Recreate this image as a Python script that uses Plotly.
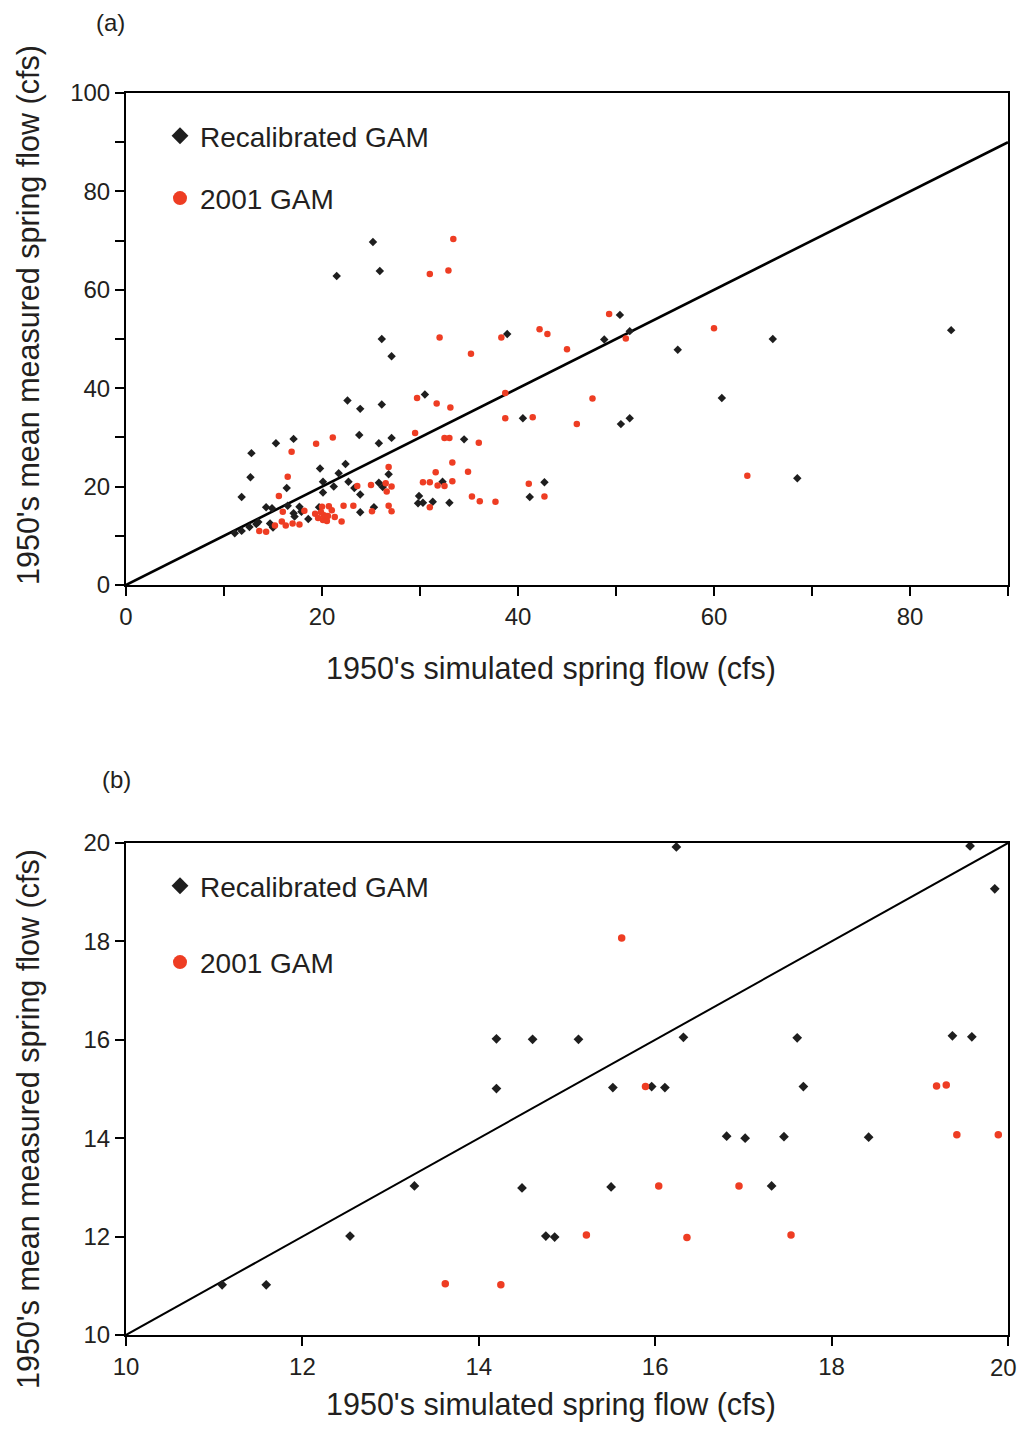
import plotly.graph_objects as go

# ---------------- data: panel (a) ----------------
recal_a_x = [25.2, 21.5, 25.9, 26.1, 27.1,
             22.6, 23.9, 26.1, 15.3, 17.1, 12.8, 23.8, 25.8, 27.1,
             12.7, 11.8, 19.8, 22.4, 21.7, 20.1, 20.1, 21.2, 22.7, 23.3, 23.9, 25.8, 26.2, 26.8, 16.4,
             14.3, 14.9, 16.5, 17.7, 17.9, 17.1, 17.2, 18.6, 19.7, 14.7, 23.9, 25.3,
             11.1, 11.8, 12.6, 13.3, 13.5, 15.0,
             29.9, 29.8, 30.3, 31.3, 33.0, 32.3, 30.5, 34.5, 38.9, 40.5, 41.2, 42.7,
             48.8, 50.4, 51.4, 50.5, 51.4,
             56.3, 60.8, 66.0, 68.5, 84.2]
recal_a_y = [69.7, 62.8, 63.8, 50.0, 46.5,
             37.5, 35.8, 36.7, 28.8, 29.7, 26.8, 30.5, 28.8, 29.9,
             21.9, 17.9, 23.7, 24.6, 22.7, 21.0, 18.8, 20.0, 21.0, 19.7, 18.4, 20.8, 19.9, 22.5, 19.7,
             15.8, 15.6, 16.1, 15.9, 14.9, 14.6, 13.9, 13.4, 15.8, 12.5, 14.8, 15.8,
             10.5, 11.0, 11.8, 12.4, 12.8, 11.7,
             18.1, 16.6, 16.7, 16.9, 16.7, 21.0, 38.7, 29.6, 51.0, 33.9, 17.9, 20.9,
             49.9, 54.9, 51.6, 32.7, 33.9,
             47.8, 38.0, 50.0, 21.7, 51.8]

gam2001_a_x = [33.4, 31.0, 32.9, 32.0, 35.2, 38.3, 42.2, 43.0, 45.0, 49.3, 51.0, 60.0,
               29.7, 31.7, 33.1, 38.7, 47.6, 29.5, 32.5, 33.0, 38.7, 41.5, 46.0, 36.0, 33.3,
               31.6, 34.9, 30.3, 31.0, 31.8, 32.5, 33.3, 41.1, 35.3, 36.1, 37.7, 42.7, 31.0, 63.4,
               19.4, 21.1, 16.9, 16.5, 15.6, 26.8, 23.6, 25.0, 26.5, 27.1, 26.6, 22.2, 23.2,
               25.1, 26.8, 27.1, 22.0,
               16.0, 18.2, 13.6, 14.3, 15.2, 15.9, 16.3, 17.0, 17.7,
               19.3, 19.6, 20.1, 20.5, 20.2, 20.6, 20.0, 20.7, 21.0, 21.3, 19.9]
gam2001_a_y = [70.3, 63.2, 63.9, 50.3, 47.0, 50.3, 52.0, 51.0, 47.9, 55.1, 50.1, 52.2,
               38.0, 36.9, 36.1, 39.0, 37.9, 30.9, 29.9, 29.9, 33.9, 34.1, 32.7, 28.9, 24.9,
               22.9, 23.0, 20.9, 20.9, 20.2, 20.1, 21.1, 20.6, 18.0, 17.0, 16.9, 18.0, 15.8, 22.2,
               28.7, 30.0, 27.1, 22.0, 18.1, 24.0, 20.1, 20.3, 20.7, 20.0, 19.0, 16.1, 16.1,
               15.0, 16.1, 15.0, 12.9,
               14.9, 15.1, 11.0, 10.8, 12.1, 12.9, 12.1, 12.5, 12.3,
               14.5, 13.6, 13.2, 13.0, 14.2, 14.0, 15.9, 16.0, 15.2, 13.8, 14.8]

# ---------------- data: panel (b) ----------------
recal_b_x = [11.09, 11.59, 12.54, 13.27, 14.20, 14.20, 14.49, 14.61, 14.76, 14.86, 15.13,
             15.52, 15.50, 15.96, 16.11, 16.24, 16.32, 16.81, 17.02, 17.32, 17.46, 17.61,
             17.68, 18.42, 19.37, 19.57, 19.59, 19.85]
recal_b_y = [11.02, 11.02, 12.01, 13.03, 16.02, 15.01, 12.99, 16.01, 12.01, 11.99, 16.01,
             15.03, 13.01, 15.05, 15.03, 19.92, 16.05, 14.04, 14.00, 13.03, 14.03, 16.04,
             15.05, 14.02, 16.08, 19.94, 16.06, 19.07]

gam2001_b_x = [13.62, 14.25, 15.22, 15.62, 15.89, 16.04, 16.36, 16.95, 17.54,
               19.19, 19.30, 19.42, 19.89]
gam2001_b_y = [11.04, 11.02, 12.03, 18.07, 15.05, 13.03, 11.98, 13.03, 12.03,
               15.06, 15.08, 14.07, 14.07]

# tick labels
ticks_a_x = [0, 20, 40, 60, 80]
ticks_a_y = [0, 20, 40, 60, 80, 100]
ticks_b = [10, 12, 14, 16, 18, 20]

# 1:1 reference lines
line_a = [0, 90]
line_b = [10, 20]

series_names = ["Recalibrated GAM", "2001 GAM"]
x_title = "1950's simulated spring flow (cfs)"
y_title = "1950's mean measured spring flow (cfs)"

BLACK = "#1e1e1e"
RED = "#ee3d23"
TXT = "#231f20"
FONT = "Liberation Sans, Arial, sans-serif"
PAGE_MARGIN = 8            # default body margin of the html page
W, H = 1026 - 2 * PAGE_MARGIN, 1430 - 2 * PAGE_MARGIN

fig = go.Figure()

# panel (a)
fig.add_trace(go.Scatter(x=line_a, y=line_a, mode="lines", line=dict(color="black", width=2.6),
                         showlegend=False, hoverinfo="skip", xaxis="x", yaxis="y"))
fig.add_trace(go.Scatter(x=recal_a_x, y=recal_a_y, mode="markers", showlegend=False,
                         marker=dict(symbol="diamond", size=6.5, color=BLACK), xaxis="x", yaxis="y"))
fig.add_trace(go.Scatter(x=gam2001_a_x, y=gam2001_a_y, mode="markers", showlegend=False,
                         marker=dict(symbol="circle", size=6.5, color=RED), xaxis="x", yaxis="y"))
# panel (b)
fig.add_trace(go.Scatter(x=line_b, y=line_b, mode="lines", line=dict(color="black", width=2),
                         showlegend=False, hoverinfo="skip", xaxis="x2", yaxis="y2"))
fig.add_trace(go.Scatter(x=recal_b_x, y=recal_b_y, mode="markers", showlegend=False,
                         marker=dict(symbol="diamond", size=7.5, color=BLACK), xaxis="x2", yaxis="y2"))
fig.add_trace(go.Scatter(x=gam2001_b_x, y=gam2001_b_y, mode="markers", showlegend=False,
                         marker=dict(symbol="circle", size=7.5, color=RED), xaxis="x2", yaxis="y2"))

# legend entries (larger symbols, as in the original)
for leg, xa, ya in [("legend", "x", "y"), ("legend2", "x2", "y2")]:
    fig.add_trace(go.Scatter(x=[None], y=[None], mode="markers", name=series_names[0],
                             marker=dict(symbol="diamond", size=13, color=BLACK),
                             legend=leg, legendgroup=leg + "a", xaxis=xa, yaxis=ya))
    fig.add_trace(go.Scatter(x=[None], y=[None], mode="markers", name=series_names[1],
                             marker=dict(symbol="circle", size=14, color=RED),
                             legend=leg, legendgroup=leg + "b", xaxis=xa, yaxis=ya))

def px_x(p):
    return (p - PAGE_MARGIN) / W

def px_y(p):
    return 1 - (p - PAGE_MARGIN) / H

axis_common = dict(showline=True, linewidth=2, linecolor="black", mirror=True,
                   ticks="outside", ticklen=9, tickwidth=2, tickcolor="black",
                   showgrid=False, zeroline=False, automargin=False,
                   tickfont=dict(family=FONT, size=24, color=TXT))

# last x label of panel (b) sits at the page edge: drawn separately, right-aligned
ticktext_b_x = [str(v) for v in ticks_b[:-1]] + [""]

fig.update_layout(
    width=W, height=H,
    margin=dict(l=0, r=0, t=0, b=0, autoexpand=False),
    paper_bgcolor="white", plot_bgcolor="white",
    font=dict(family=FONT, color=TXT),
    xaxis=dict(domain=[px_x(126), px_x(1008)], range=[0, 90], anchor="y",
               tickvals=ticks_a_x,
               minor=dict(ticks="outside", ticklen=9, tickwidth=2, tickcolor="black", dtick=10, showgrid=False),
               **axis_common),
    yaxis=dict(domain=[px_y(585), px_y(93)], range=[0, 100], anchor="x",
               tickvals=ticks_a_y,
               minor=dict(ticks="outside", ticklen=9, tickwidth=2, tickcolor="black", dtick=10, showgrid=False),
               **axis_common),
    xaxis2=dict(domain=[px_x(126), px_x(1008)], range=[10, 20], anchor="y2",
                tickvals=ticks_b, ticktext=ticktext_b_x, **axis_common),
    yaxis2=dict(domain=[px_y(1335), px_y(843)], range=[10, 20], anchor="x2",
                tickvals=ticks_b, **axis_common),
    legend=dict(x=px_x(160), y=px_y(111), xanchor="left", yanchor="top",
                font=dict(family=FONT, size=28, color=TXT),
                traceorder="grouped", tracegroupgap=23, bgcolor="rgba(0,0,0,0)",
                itemsizing="trace"),
    legend2=dict(x=px_x(160), y=px_y(861), xanchor="left", yanchor="top",
                 font=dict(family=FONT, size=28, color=TXT),
                 traceorder="grouped", tracegroupgap=37, bgcolor="rgba(0,0,0,0)",
                 itemsizing="trace"),
    showlegend=True,
)

fig.add_annotation(text=str(ticks_b[-1]), x=1.0, y=px_y(1367), xref="paper", yref="paper",
                   showarrow=False, font=dict(family=FONT, size=24, color=TXT),
                   xanchor="right", yanchor="middle", borderpad=0)

annots = [
    dict(text="(a)", x=px_x(110), y=px_y(22)),
    dict(text="(b)", x=px_x(116), y=px_y(779)),
]
for a in annots:
    fig.add_annotation(text=a["text"], x=a["x"], y=a["y"], xref="paper", yref="paper",
                       showarrow=False, font=dict(family=FONT, size=24, color=TXT),
                       xanchor="center", yanchor="middle")

for (tx, ty) in [(551, 668), (551, 1404)]:
    fig.add_annotation(text=x_title, x=px_x(tx), y=px_y(ty), xref="paper", yref="paper",
                       showarrow=False, font=dict(family=FONT, size=30.5, color=TXT),
                       xanchor="center", yanchor="middle")
for (tx, ty) in [(28, 315), (28, 1119)]:
    fig.add_annotation(text=y_title, x=px_x(tx), y=px_y(ty), xref="paper", yref="paper",
                       showarrow=False, textangle=-90,
                       font=dict(family=FONT, size=30.5, color=TXT),
                       xanchor="center", yanchor="middle")

fig.write_html("out.html")
